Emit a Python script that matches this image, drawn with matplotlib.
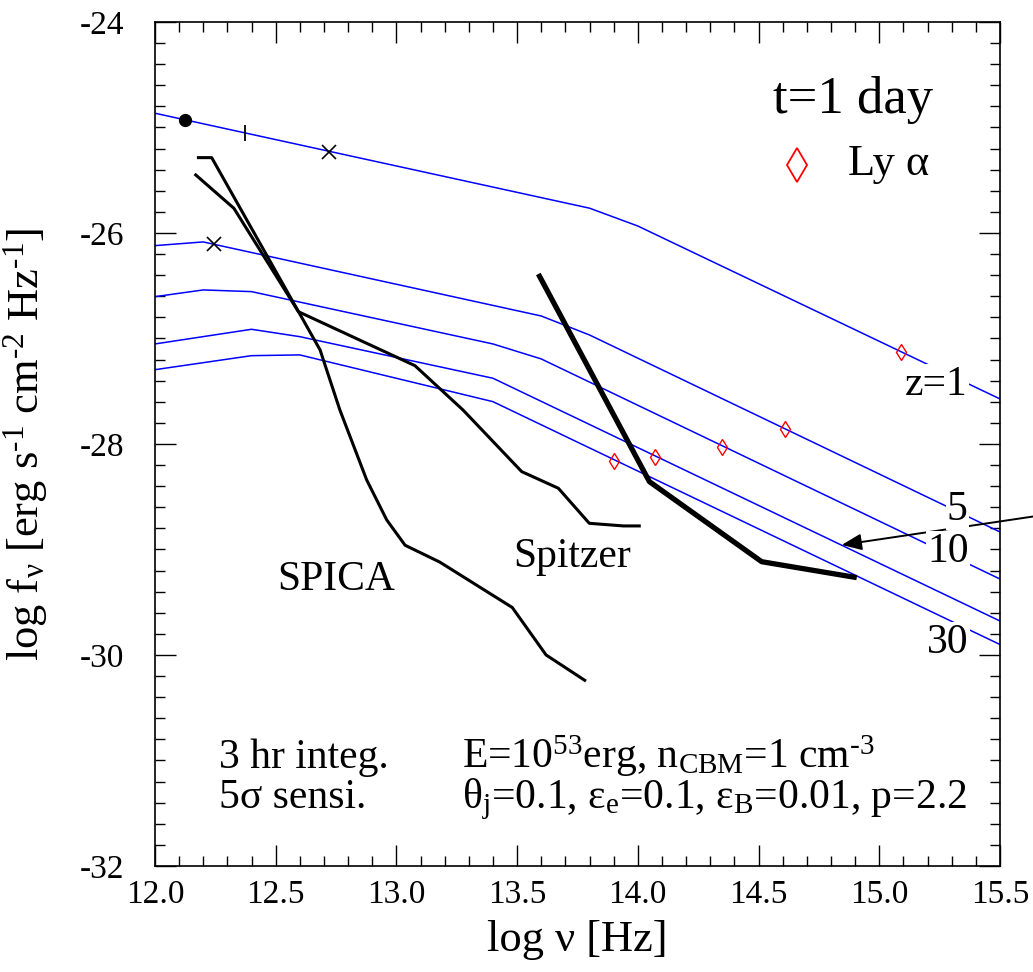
import matplotlib
matplotlib.use("Agg")
import matplotlib.pyplot as plt
import matplotlib.ticker as mticker

SERIF = ["Liberation Serif", "DejaVu Serif"]
plt.rcParams.update({
    "font.family": SERIF,
    "font.serif": SERIF,
    "mathtext.fontset": "custom",
    "mathtext.rm": "Liberation Serif",
    "mathtext.it": "Liberation Serif:italic",
    "mathtext.bf": "Liberation Serif:bold",
    "font.size": 24,
})

BLUE = "#0000ff"

# afterglow spectra at t = 1 day, one per redshift
LOGNU = {
    1: [12.0, 13.8, 14.0, 15.5],
    5: [12.0, 12.2, 13.6, 13.8, 15.5],
    10: [12.0, 12.2, 12.4, 13.4, 13.6, 15.5],
    20: [12.0, 12.4, 12.6, 13.4, 15.5],
    30: [12.0, 12.4, 12.6, 13.4, 15.5],
}
LOGF = {
    1: [-24.865, -25.765, -25.934, -27.573],
    5: [-26.12, -26.085, -26.787, -26.967, -28.834],
    10: [-26.604, -26.540, -26.556, -27.052, -27.194, -29.280],
    20: [-27.052, -26.913, -26.983, -27.377, -29.678],
    30: [-27.296, -27.163, -27.156, -27.599, -29.901],
}

# Ly alpha break on each curve
LYA_NU = [15.09, 14.61, 14.35, 14.07, 13.90]
LYA_F = [-27.125, -27.861, -28.026, -28.120, -28.158]

# sensitivity curves (3 hr, 5 sigma)
SPICA_NU = [12.18, 12.235, 12.684, 12.766, 12.877, 12.96, 13.036, 13.18, 13.48, 13.62, 13.78]
SPICA_F = [-25.286, -25.286, -27.109, -27.678, -28.341, -28.72, -28.96, -29.12, -29.55, -30.0, -30.24]
SPITZER_NU = [12.169, 12.327, 12.594, 13.077, 13.276, 13.519, 13.671, 13.799, 13.94, 14.006]
SPITZER_F = [-25.450, -25.766, -26.746, -27.258, -27.678, -28.262, -28.420, -28.752, -28.777, -28.777]
THICK_NU = [13.588, 14.048, 14.513, 14.907]
THICK_F = [-26.389, -28.357, -29.116, -29.267]

fig = plt.figure(figsize=(10.33, 9.72), dpi=100)
ax = fig.add_axes([0.1500, 0.1091, 0.8180, 0.8683])

for z in LOGNU:
    ax.plot(LOGNU[z], LOGF[z], color=BLUE, lw=1.1, zorder=2)

ax.plot(SPICA_NU, SPICA_F, color="k", lw=2.2, zorder=3)
ax.plot(SPITZER_NU, SPITZER_F, color="k", lw=2.2, zorder=3)
ax.plot(THICK_NU, THICK_F, color="k", lw=3.8, zorder=3, solid_capstyle="butt")

ax.plot(LYA_NU, LYA_F, ls="none", marker="d", ms=8.6, mfc="none", mec="red", mew=1.0, zorder=4)

# band markers along the top curves
ax.plot([12.124], [-24.93], "o", color="k", ms=8.5, zorder=5)
ax.plot([12.373], [-25.055], "|", color="k", ms=11, mew=1.3, zorder=5)
ax.plot([12.72, 12.246], [-25.23, -26.107], "x", color="k", ms=10, mew=1.2, zorder=5)

# curve labels
box = dict(fc="white", ec="none", pad=1)
ax.text(15.107, -27.44, "z=1", fontsize=30, va="center", ha="left", bbox=box, zorder=6)
ax.text(15.28, -28.625, "5", fontsize=30, va="center", ha="left", bbox=box, zorder=6)
ax.text(15.20, -29.02, "10", fontsize=30, va="center", ha="left", bbox=box, zorder=6)
ax.text(15.198, -29.886, "30", fontsize=30, va="center", ha="left", bbox=box, zorder=6)

ax.text(12.75, -29.29, "SPICA", fontsize=30, ha="center", va="center")
ax.text(13.727, -29.07, "Spitzer", fontsize=30, ha="center", va="center")

ax.text(14.56, -24.86, "t=1 day", fontsize=38, ha="left", va="baseline")
ax.plot([14.658], [-25.355], ls="none", marker="d", ms=17, mfc="none", mec="red", mew=1.3)
ax.text(14.87, -25.45, "Ly α", fontsize=32, ha="left", va="baseline")

ax.text(12.265, -31.071, "3 hr integ.", fontsize=30, ha="left", va="baseline")
ax.text(12.265, -31.45, "5σ sensi.", fontsize=30, ha="left", va="baseline")
ax.text(13.27, -31.071,
        r"E=10$^{\text{53}}$erg, n$_{\text{CBM}}$=1 cm$^{\text{-3}}$",
        fontsize=30, ha="left", va="baseline")
ax.text(13.27, -31.45,
        r"θ$_{\text{j}}$=0.1, ε$_{\text{e}}$=0.1, ε$_{\text{B}}$=0.01, p=2.2",
        fontsize=30, ha="left", va="baseline")

ax.annotate("", xy=(14.845, -28.957), xytext=(15.66, -28.68),
            arrowprops=dict(arrowstyle="-|>,head_length=0.6,head_width=0.25",
                            color="k", lw=1.4, mutation_scale=20, shrinkA=0, shrinkB=0),
            annotation_clip=False)

ax.set_xlim(12.0, 15.5)
ax.set_ylim(-32, -24)
ax.xaxis.set_major_locator(mticker.MultipleLocator(0.5))
ax.xaxis.set_minor_locator(mticker.MultipleLocator(0.1))
ax.yaxis.set_major_locator(mticker.MultipleLocator(2))
ax.yaxis.set_minor_locator(mticker.MultipleLocator(0.2))
ax.xaxis.set_major_formatter(mticker.FormatStrFormatter("%.1f"))
ax.yaxis.set_major_formatter(mticker.FuncFormatter(lambda v, _: f"{v:.0f}".replace("\u2212", "-")))
ax.tick_params(which="both", direction="in", top=True, right=True, width=1.0,
               labelsize=24, labelfontfamily="Liberation Serif")
ax.tick_params(which="major", length=15)
ax.tick_params(axis="x", which="major", pad=10)
ax.tick_params(axis="y", which="major", pad=22)
ax.tick_params(which="minor", length=7.5)
for s in ax.spines.values():
    s.set_linewidth(1.2)

ax.set_xlabel("log ν [Hz]", fontsize=32)
ax.set_ylabel(r"log f$_{\text{ν}}$ [erg s$^{\text{-1}}$ cm$^{\text{-2}}$ Hz$^{\text{-1}}$]",
              fontsize=32)
ax.xaxis.set_label_coords(0.5, -0.064)
ax.yaxis.set_label_coords(-0.124, 0.5)

fig.savefig("out.png", dpi=100)
